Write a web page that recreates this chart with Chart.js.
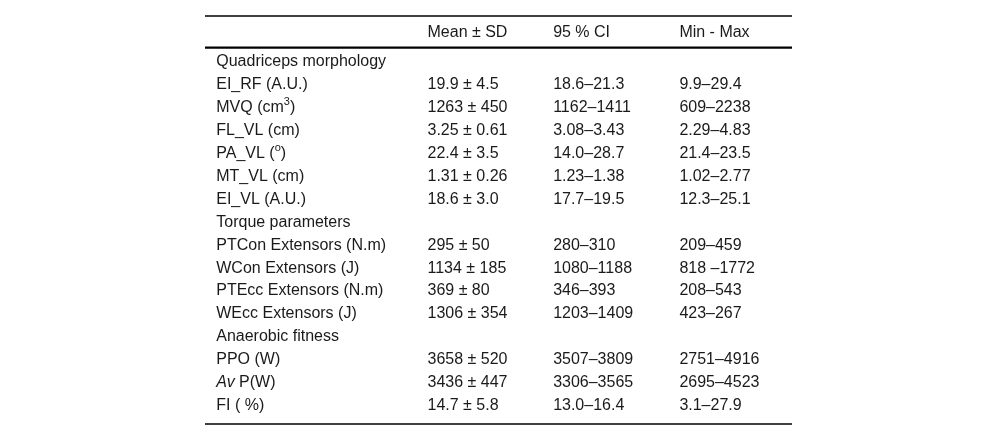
<!DOCTYPE html>
<html>
<head>
<meta charset="utf-8">
<script src="https://cdn.jsdelivr.net/npm/chart.js@4/dist/chart.umd.min.js"></script>
<style>
  html, body { margin: 0; padding: 0; background: #fff; }
  #wrap { width: 1000px; height: 438px; position: relative; }
</style>
</head>
<body>
<div id="wrap"><canvas id="tbl"></canvas></div>
<script>
'use strict';

/**
 * table data
 * ^x = superscript char, *..* = italic
 */

const colHeaders = ['Mean ± SD', '95 % CI', 'Min - Max'];

const rowLabels = [
  'Quadriceps morphology', 'EI_RF (A.U.)', 'MVQ (cm^3)', 'FL_VL (cm)', 'PA_VL (^o)',
  'MT_VL (cm)', 'EI_VL (A.U.)', 'Torque parameters', 'PTCon Extensors (N.m)',
  'WCon Extensors (J)', 'PTEcc Extensors (N.m)', 'WEcc Extensors (J)',
  'Anaerobic fitness', 'PPO (W)', '*Av* P(W)', 'FI ( %)'
];

const meanSd = [
  '', '19.9 ± 4.5', '1263 ± 450', '3.25 ± 0.61', '22.4 ± 3.5', '1.31 ± 0.26', '18.6 ± 3.0',
  '', '295 ± 50', '1134 ± 185', '369 ± 80', '1306 ± 354',
  '', '3658 ± 520', '3436 ± 447', '14.7 ± 5.8'
];

const ci95 = [
  '', '18.6–21.3', '1162–1411', '3.08–3.43', '14.0–28.7', '1.23–1.38', '17.7–19.5',
  '', '280–310', '1080–1188', '346–393', '1203–1409',
  '', '3507–3809', '3306–3565', '13.0–16.4'
];

const minMax = [
  '', '9.9–29.4', '609–2238', '2.29–4.83', '21.4–23.5', '1.02–2.77', '12.3–25.1',
  '', '209–459', '818 –1772', '208–543', '423–267',
  '', '2751–4916', '2695–4523', '3.1–27.9'
];

// layout (scale units: 1 column step on x, 1 row on y)
const colX = [0.09, 1.78, 2.785, 3.795];
const headerRow = -1.26;
const headerRule = -0.62;
const FONT = '"Liberation Sans", Arial, Helvetica, sans-serif';

const columns = [rowLabels, meanSd, ci95, minMax];

const datasets = columns.map(function (col, c) {
  const pts = [];
  const texts = [];
  if (c > 0) {
    pts.push({ x: colX[c], y: headerRow });
    texts.push(colHeaders[c - 1]);
  }
  col.forEach(function (t, r) {
    if (t === '') return;
    pts.push({ x: colX[c], y: r });
    texts.push(t);
  });
  return { data: pts, texts: texts, pointRadius: 0, showLine: false };
});

function drawRich(ctx, str, x, y) {
  const parts = str.split(/(\*[^*]+\*|\^.)/).filter(Boolean);
  parts.forEach(function (p) {
    if (p[0] === '*') {
      ctx.font = 'italic 16px ' + FONT;
      const s = p.slice(1, -1);
      ctx.fillText(s, x, y);
      x += ctx.measureText(s).width;
    } else if (p[0] === '^') {
      ctx.font = '11px ' + FONT;
      const s = p.slice(1);
      ctx.fillText(s, x, y - 6);
      x += ctx.measureText(s).width;
    } else {
      ctx.font = '16px ' + FONT;
      ctx.fillText(p, x, y);
      x += ctx.measureText(p).width;
    }
  });
}

const tablePlugin = {
  id: 'tablePlugin',
  beforeDatasetsDraw(chart) {
    const ctx = chart.ctx;
    const area = chart.chartArea;
    const yS = chart.scales.y;
    const rules = [[yS.min, 1.4], [headerRule, 2.2], [yS.max, 1.4]];
    ctx.save();
    ctx.strokeStyle = '#000';
    rules.forEach(function (r) {
      const py = yS.getPixelForValue(r[0]);
      ctx.lineWidth = r[1];
      ctx.beginPath();
      ctx.moveTo(area.left, py);
      ctx.lineTo(area.right, py);
      ctx.stroke();
    });
    ctx.restore();
  },
  afterDatasetsDraw(chart) {
    const ctx = chart.ctx;
    ctx.save();
    ctx.fillStyle = '#1a1a1a';
    ctx.textAlign = 'left';
    ctx.textBaseline = 'middle';
    chart.data.datasets.forEach(function (ds, i) {
      chart.getDatasetMeta(i).data.forEach(function (el, j) {
        drawRich(ctx, ds.texts[j], el.x, el.y);
      });
    });
    ctx.restore();
  }
};

new Chart(document.getElementById('tbl'), {
  type: 'scatter',
  data: { datasets: datasets },
  options: {
    responsive: true,
    maintainAspectRatio: false,
    animation: false,
    events: [],
    layout: { padding: { left: 205, right: 208, top: 16, bottom: 14 } },
    plugins: { legend: { display: false }, tooltip: { enabled: false } },
    scales: {
      x: { type: 'linear', display: false, min: 0, max: 4.696 },
      y: { type: 'linear', display: false, reverse: true, min: -2, max: 15.8 }
    }
  },
  plugins: [tablePlugin]
});
</script>
</body>
</html>
